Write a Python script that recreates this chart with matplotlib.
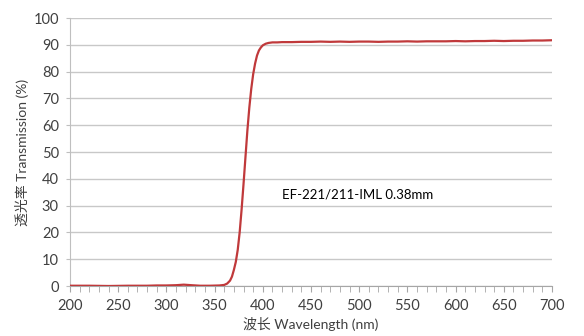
import matplotlib
matplotlib.use("Agg")
import matplotlib.pyplot as plt
import numpy as np

plt.rcParams['font.family'] = ['Lato', 'Noto Sans CJK SC', 'DejaVu Sans']

wavelength = [200, 220, 240, 260, 280, 290, 300, 310, 318, 326, 335, 345, 355, 360, 363,
              366, 368, 370, 372, 374, 376, 378, 380, 382, 384, 386, 388, 390, 392, 394,
              396, 398, 400, 403, 406, 410, 415, 420, 430, 440, 450, 460, 470, 480, 490,
              500, 510, 520, 530, 540, 550, 560, 570, 580, 590, 600, 610, 620, 630, 640,
              650, 660, 670, 680, 690, 700]
transmission = [0.1, 0.1, 0.0, 0.1, 0.1, 0.2, 0.2, 0.3, 0.5, 0.3, 0.1, 0.1, 0.2, 0.4, 0.9,
                2.0, 3.5, 6.0, 9.0, 13.5, 20.0, 28.5, 38.0, 48.0, 58.0, 66.5, 73.5, 79.0, 83.0, 86.0,
                87.9, 89.0, 89.8, 90.4, 90.7, 90.9, 90.9, 91.0, 91.0, 91.1, 91.1, 91.2, 91.1, 91.2, 91.1,
                91.2, 91.2, 91.1, 91.2, 91.2, 91.3, 91.2, 91.3, 91.3, 91.3, 91.4, 91.3, 91.4, 91.4, 91.5,
                91.4, 91.5, 91.5, 91.6, 91.6, 91.7]

x_ticks = [200, 250, 300, 350, 400, 450, 500, 550, 600, 650, 700]
y_ticks = [0, 10, 20, 30, 40, 50, 60, 70, 80, 90, 100]
annotation = "EF-221/211-IML 0.38mm"
xlabel = "波长 Wavelength (nm)"
ylabel = "透光率 Transmission (%)"

fig = plt.figure(figsize=(5.84, 3.36), dpi=100)
ax = fig.add_axes([70/584, 1-286/336, 482/584, 268/336])

ax.plot(wavelength, transmission, color='#C0393B', lw=1.6, zorder=3)

ax.set_xlim(200, 700)
ax.set_ylim(0, 100)
ax.set_xticks(x_ticks)
ax.set_yticks(y_ticks)
ax.set_xticks(np.arange(200, 701, 10), minor=True)
ax.yaxis.grid(True, color='#C8C8C8', lw=1.0)
ax.set_axisbelow(True)
for s in ['top', 'right']:
    ax.spines[s].set_visible(False)
ax.spines['left'].set_color('#BFBFBF')
ax.spines['bottom'].set_color('#A6A6A6')
ax.tick_params(axis='x', which='both', direction='out', length=4, color='#A6A6A6',
               labelsize=10.5, labelcolor='#404040', pad=5)
ax.tick_params(axis='y', which='both', direction='out', length=3, color='#BFBFBF',
               labelsize=10.5, labelcolor='#404040', pad=5)

ax.text(420, 34.3, annotation, fontsize=9.5, color='black', va='center', ha='left')
ax.set_xlabel(xlabel, fontsize=10, color='#404040', labelpad=3)
ax.set_ylabel(ylabel, fontsize=10, color='#404040', labelpad=3)

fig.savefig('out.png', dpi=100)
